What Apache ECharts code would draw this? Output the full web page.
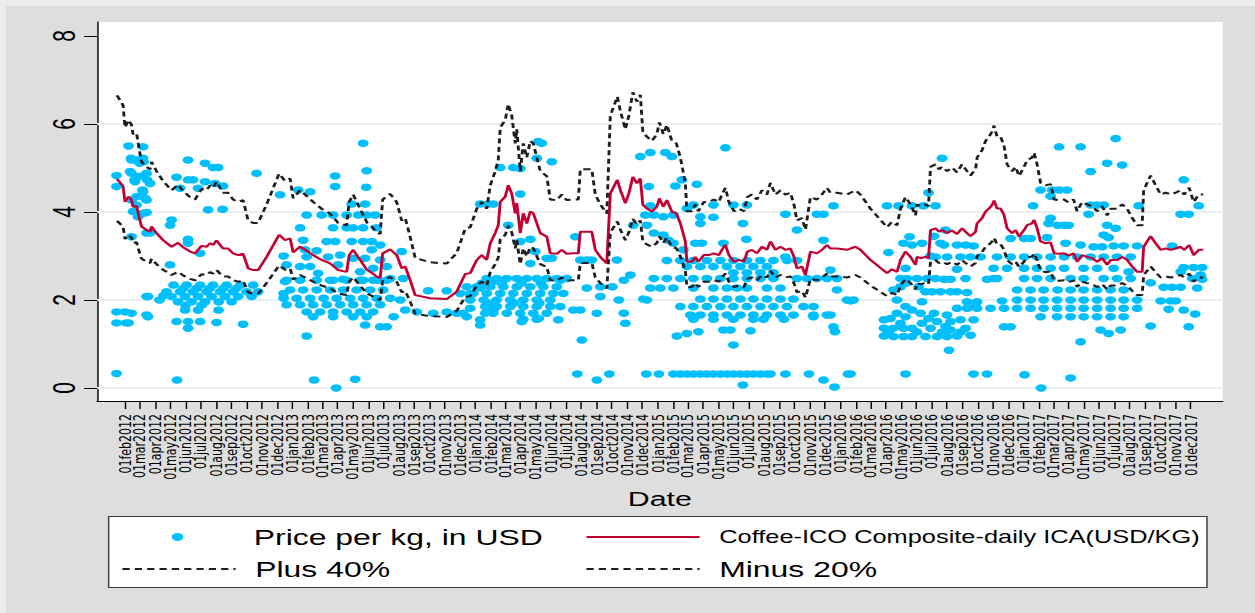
<!DOCTYPE html>
<html>
<head>
<meta charset="utf-8">
<script src="https://cdn.jsdelivr.net/npm/echarts@6/dist/echarts.min.js"></script>
<style>
  html, body { margin: 0; padding: 0; width: 1255px; height: 613px; overflow: hidden; background: #dedede; }
  #edgeTop { position: absolute; left: 0; top: 0; width: 1255px; height: 6px; background: #ececec; }
  #edgeLeft { position: absolute; left: 0; top: 0; width: 6px; height: 613px; background: #ececec; }
  /* the graph is laid out on an 865px-wide canvas and widened to fill the window */
  #chart { position: absolute; left: 0; top: 0; width: 865px; height: 613px; transform: scaleX(1.450867); transform-origin: 0 0; }
</style>
</head>
<body>
<div id="edgeTop"></div>
<div id="edgeLeft"></div>
<div id="chart"></div>
<script>
// ---- axis ticks ----
const TICK_LABELS = [
  '01feb2012','01mar2012','01apr2012','01may2012','01jun2012','01jul2012','01aug2012','01sep2012','01oct2012','01nov2012','01dec2012',
  '01jan2013','01feb2013','01mar2013','01apr2013','01may2013','01jun2013','01jul2013','01aug2013','01sep2013','01oct2013','01nov2013','01dec2013',
  '01jan2014','01feb2014','01mar2014','01apr2014','01may2014','01jun2014','01jul2014','01aug2014','01sep2014','01oct2014','01nov2014','01dec2014',
  '01jan2015','01feb2015','01mar2015','01apr2015','01may2015','01jun2015','01jul2015','01aug2015','01sep2015','01oct2015','01nov2015','01dec2015',
  '01jan2016','01feb2016','01mar2016','01apr2016','01may2016','01jun2016','01jul2016','01aug2016','01sep2016','01oct2016','01nov2016','01dec2016',
  '01jan2017','01feb2017','01mar2017','01apr2017','01may2017','01jun2017','01jul2017','01aug2017','01sep2017','01oct2017','01nov2017','01dec2017'
];
const Y_TICKS = [0, 2, 4, 6, 8];
const Y_GRID = [0, 2, 4, 6];

// ---- Coffee-ICO composite daily indicator price (USD/kg) ----
const icaSeries = [
  ['2012-01-16',4.75],['2012-01-28',4.59],['2012-02-01',4.23],['2012-02-08',4.35],['2012-02-14',4.27],['2012-02-17',4.12],['2012-02-24',4.14],['2012-02-29',3.89],
  ['2012-03-05',3.67],['2012-03-15',3.59],['2012-03-22',3.55],['2012-03-25',3.67],['2012-04-04',3.52],['2012-04-17',3.36],['2012-05-04',3.21],['2012-05-17',3.30],
  ['2012-05-27',3.20],['2012-06-10',3.10],['2012-06-20',3.06],['2012-06-26',3.14],['2012-07-03',3.23],['2012-07-13',3.21],['2012-07-20',3.29],['2012-07-26',3.25],
  ['2012-08-02',3.35],['2012-08-09',3.25],['2012-08-15',3.17],['2012-08-25',3.17],['2012-09-04',3.06],['2012-09-14',3.02],['2012-09-24',3.05],['2012-10-04',2.72],
  ['2012-10-14',2.68],['2012-10-24',2.68],['2012-11-10',2.98],['2012-12-05',3.48],['2012-12-17',3.36],['2012-12-27',3.40],
  ['2013-01-02',3.08],['2013-01-16',3.21],['2013-01-26',3.14],['2013-02-11',3.02],['2013-02-28',2.91],['2013-03-17',2.83],['2013-04-02',2.68],['2013-04-19',2.64],
  ['2013-04-24',3.02],['2013-05-02',3.14],['2013-05-16',2.91],['2013-05-30',2.68],['2013-06-08',2.62],['2013-06-18',2.53],['2013-06-25',2.50],['2013-06-30',3.06],
  ['2013-07-15',3.15],['2013-07-28',3.02],['2013-08-07',2.72],['2013-08-14',2.76],['2013-08-24',2.45],['2013-09-03',2.11],['2013-10-03',2.04],['2013-11-05',2.02],
  ['2013-11-25',2.19],['2013-12-12',2.59],['2013-12-22',2.61],
  ['2014-01-04',2.91],['2014-01-14',3.02],['2014-01-24',2.91],['2014-01-31',3.29],['2014-02-10',3.52],['2014-02-16',3.70],['2014-02-20',4.23],['2014-03-02',4.35],
  ['2014-03-08',4.61],['2014-03-15',4.42],['2014-03-22',3.97],['2014-03-25',4.20],['2014-04-01',3.52],['2014-04-07',3.97],['2014-04-14',3.74],['2014-04-21',4.01],
  ['2014-04-27',3.97],['2014-05-11',3.52],['2014-05-24',3.44],['2014-05-31',3.06],['2014-06-13',3.05],['2014-06-23',3.14],['2014-07-03',3.05],['2014-07-16',3.06],
  ['2014-07-26',3.06],['2014-07-30',3.55],['2014-08-22',3.55],['2014-08-29',3.14],['2014-09-08',2.98],['2014-09-21',2.83],['2014-09-28',4.42],['2014-10-12',4.73],
  ['2014-10-18',4.50],['2014-10-28',4.20],['2014-11-04',4.42],['2014-11-12',4.80],['2014-11-20',4.65],['2014-11-27',4.76],['2014-12-02',4.16],['2014-12-10',4.08],
  ['2014-12-20',4.01],['2014-12-30',4.12],
  ['2015-01-04',4.31],['2015-01-12',4.12],['2015-01-19',4.27],['2015-01-29',4.01],['2015-02-07',3.97],['2015-02-15',3.74],['2015-02-25',3.33],['2015-02-28',2.87],
  ['2015-03-10',2.87],['2015-03-17',2.98],['2015-03-23',2.87],['2015-04-03',3.02],['2015-04-13',3.02],['2015-04-23',3.06],['2015-05-03',3.02],['2015-05-09',3.14],
  ['2015-05-16',3.25],['2015-05-23',3.02],['2015-06-02',2.87],['2015-06-12',2.91],['2015-06-22',2.87],['2015-06-29',3.10],['2015-07-08',3.14],['2015-07-18',3.06],
  ['2015-07-28',3.21],['2015-08-07',3.14],['2015-08-14',3.33],['2015-08-24',3.14],['2015-09-03',3.21],['2015-09-13',3.14],['2015-09-23',3.17],['2015-09-30',2.98],
  ['2015-10-06',2.72],['2015-10-16',2.76],['2015-10-23',2.57],['2015-11-02',3.10],['2015-11-15',3.06],['2015-11-25',3.14],['2015-12-05',3.25],['2015-12-12',3.17],
  ['2015-12-25',3.17],
  ['2016-01-14',3.14],['2016-01-21',3.17],['2016-01-31',3.21],['2016-02-10',3.14],['2016-03-01',2.91],['2016-04-03',2.61],['2016-04-13',2.70],['2016-04-23',2.64],
  ['2016-04-30',2.91],['2016-05-10',3.10],['2016-05-20',2.98],['2016-05-30',2.80],['2016-06-02',2.98],['2016-06-09',2.95],['2016-06-19',2.98],['2016-06-25',2.95],
  ['2016-06-29',3.59],['2016-07-09',3.63],['2016-07-16',3.55],['2016-07-22',3.59],['2016-08-01',3.52],['2016-08-11',3.58],['2016-08-21',3.50],['2016-08-31',3.63],
  ['2016-09-10',3.52],['2016-09-17',3.45],['2016-09-27',3.55],['2016-09-30',3.74],['2016-10-10',3.86],['2016-10-17',4.01],['2016-10-24',4.08],['2016-10-30',4.16],
  ['2016-11-03',4.26],['2016-11-09',4.08],['2016-11-16',4.08],['2016-11-23',3.93],['2016-11-29',3.63],['2016-12-09',3.52],['2016-12-16',3.59],['2016-12-23',3.44],
  ['2017-01-02',3.59],['2017-01-08',3.70],['2017-01-18',3.74],['2017-01-22',3.82],['2017-01-28',3.63],['2017-02-04',3.33],['2017-02-14',3.29],['2017-02-24',3.31],
  ['2017-03-03',3.06],['2017-03-13',3.05],['2017-03-23',3.06],['2017-04-01',3.01],['2017-04-11',3.06],['2017-04-18',2.87],['2017-04-28',3.02],['2017-05-08',2.98],
  ['2017-05-18',2.95],['2017-05-28',2.87],['2017-06-07',2.95],['2017-06-17',2.80],['2017-06-24',2.91],['2017-07-07',2.91],['2017-07-17',2.98],['2017-07-27',2.91],
  ['2017-08-06',2.76],['2017-08-16',2.64],['2017-08-26',2.64],['2017-08-29',3.21],['2017-09-12',3.45],['2017-09-22',3.29],['2017-10-02',3.14],['2017-10-12',3.17],
  ['2017-10-22',3.14],['2017-11-01',3.17],['2017-11-11',3.21],['2017-11-18',3.14],['2017-11-28',3.25],['2017-12-07',3.02],['2017-12-17',3.14],['2017-12-26',3.14]
];
// band multipliers named in the legend
const PLUS_FACTOR = 1.4;   // Plus 40%
const MINUS_FACTOR = 0.8;  // Minus 20%

// ---- observed prices per kg (USD) ----
const price2012 = [
  ['2012-01-15',4.83],['2012-01-15',4.58],['2012-01-15',0.33],['2012-01-15',1.73],['2012-01-15',1.48],
  ['2012-02-01',1.73],['2012-02-03',1.48],['2012-02-08',5.50],['2012-02-08',1.48],['2012-02-11',4.92],
  ['2012-02-14',5.18],['2012-02-14',4.88],['2012-02-14',4.27],['2012-02-14',3.44],['2012-02-14',1.70],['2012-02-13',5.22],
  ['2012-02-17',4.01],['2012-02-21',4.69],['2012-02-20',4.73],['2012-02-24',5.18],['2012-02-24',4.35],['2012-02-24',4.16],
  ['2012-02-27',3.89],['2012-03-01',5.11],['2012-03-01',4.81],
  ['2012-03-08',5.48],['2012-03-08',5.22],['2012-03-08',4.46],['2012-03-08',3.97],['2012-03-07',4.50],['2012-03-09',5.14],
  ['2012-03-12',4.31],['2012-03-15',4.88],['2012-03-15',4.27],['2012-03-15',3.52],['2012-03-15',2.08],['2012-03-15',1.66],['2012-03-16',4.73],['2012-03-15',3.99],
  ['2012-03-18',2.08],['2012-03-18',1.62],['2012-03-22',4.65],['2012-03-22',3.52],
  ['2012-04-10',2.00],['2012-04-18',2.10],
  ['2012-05-01',3.70],['2012-05-01',2.80],['2012-05-04',3.82],['2012-05-14',4.79],['2012-05-14',1.51],['2012-05-15',0.18],['2012-05-21',4.54],
  ['2012-06-06',5.18],['2012-06-06',4.73],['2012-06-06',3.38],['2012-06-06',3.29],['2012-06-16',4.73],['2012-06-26',4.54],['2012-06-30',3.06],
  ['2012-07-10',5.11],['2012-07-10',4.69],['2012-07-16',4.05],['2012-07-26',5.01],['2012-07-30',4.65],
  ['2012-08-05',5.01],['2012-08-14',4.06],['2012-08-15',4.59],['2012-10-21',4.88],
  ['2012-05-08',2.34],['2012-06-03',2.34],['2012-06-30',2.34],['2012-07-26',2.34],['2012-08-22',2.34],['2012-09-18',2.34],['2012-10-14',2.34],
  ['2012-05-27',2.26],['2012-06-23',2.26],['2012-07-19',2.26],['2012-08-15',2.26],['2012-09-10',2.26],
  ['2012-04-24',2.19],['2012-05-21',2.19],['2012-06-16',2.19],['2012-07-13',2.19],['2012-08-09',2.19],['2012-09-04',2.19],['2012-10-01',2.19],['2012-10-24',2.19],
  ['2012-05-04',2.08],['2012-05-31',2.08],['2012-06-26',2.08],['2012-07-23',2.08],['2012-08-19',2.08],['2012-09-14',2.08],['2012-10-11',2.08],
  ['2012-05-17',1.96],['2012-06-13',1.96],['2012-07-10',1.96],['2012-08-06',1.96],['2012-09-01',1.96],
  ['2012-06-01',1.88],['2012-07-03',1.88],
  ['2012-05-31',1.77],['2012-06-26',1.77],['2012-08-06',1.77],
  ['2012-06-06',1.51],['2012-06-30',1.51],['2012-08-02',1.49],['2012-09-24',1.45],['2012-06-06',1.36],
  ['2012-12-07',4.39],['2012-12-14',3.00],['2012-12-20',2.80],['2012-12-17',2.42],['2012-12-20',2.45],['2012-12-27',2.23],
  ['2012-12-14',2.04],['2012-12-20',1.89],['2012-12-14',2.15]
];
const price2013 = [
  ['2013-01-12',4.50],['2013-02-05',4.46],['2013-03-27',4.82],['2013-03-27',4.58],['2013-05-22',5.56],['2013-05-29',4.94],['2013-05-28',4.56],
  ['2013-04-29',4.18],['2013-05-26',4.18],
  ['2013-01-29',3.93],['2013-02-28',3.93],['2013-03-23',3.93],['2013-04-19',3.93],['2013-05-12',3.93],['2013-05-29',3.93],['2013-06-15',3.93],
  ['2013-01-16',3.64],['2013-03-23',3.64],['2013-04-19',3.64],['2013-05-02',3.64],['2013-05-22',3.64],['2013-06-18',3.64],
  ['2013-01-22',3.36],['2013-03-10',3.33],['2013-03-27',3.33],['2013-04-29',3.33],['2013-05-22',3.33],['2013-06-08',3.33],['2013-06-25',3.25],
  ['2013-01-26',3.14],['2013-01-29',2.98],['2013-02-18',3.12],['2013-03-13',2.98],['2013-04-06',3.02],['2013-05-02',2.95],['2013-05-26',2.95],
  ['2013-06-08',3.14],['2013-06-25',2.91],['2013-08-07',3.10],
  ['2013-01-16',2.76],['2013-02-05',2.76],['2013-04-02',2.80],['2013-05-16',2.64],['2013-06-11',2.72],['2013-07-08',2.76],
  ['2013-01-16',2.45],['2013-02-18',2.45],['2013-02-21',2.61],['2013-03-17',2.45],['2013-03-23',2.45],['2013-04-12',2.47],['2013-04-19',2.45],
  ['2013-05-16',2.45],['2013-05-22',2.45],['2013-06-11',2.45],['2013-06-21',2.45],['2013-07-08',2.45],['2013-07-15',2.49],['2013-08-10',2.49],
  ['2013-01-22',2.23],['2013-02-18',2.23],['2013-03-17',2.23],['2013-04-12',2.23],['2013-05-09',2.23],['2013-06-05',2.23],['2013-07-01',2.23],
  ['2013-01-09',2.04],['2013-02-05',2.04],['2013-03-04',2.04],['2013-03-30',2.04],['2013-04-26',2.04],['2013-05-22',2.04],['2013-06-18',2.04],
  ['2013-07-15',2.04],['2013-08-04',2.00],
  ['2013-01-16',1.89],['2013-02-11',1.89],['2013-03-10',1.89],['2013-04-06',1.89],['2013-05-02',1.89],['2013-05-29',1.89],['2013-06-25',1.89],
  ['2013-01-29',1.73],['2013-02-25',1.73],['2013-03-23',1.73],['2013-04-19',1.73],['2013-05-16',1.73],['2013-06-11',1.73],
  ['2013-02-11',1.62],['2013-03-23',1.62],['2013-05-02',1.62],['2013-05-29',1.62],['2013-07-22',1.62],
  ['2013-01-29',1.18],['2013-05-26',1.43],['2013-06-25',1.39],['2013-07-08',1.39],
  ['2013-02-13',0.18],['2013-03-29',0.00],['2013-05-06',0.20],
  ['2013-08-14',1.77],['2013-09-06',1.73],['2013-09-29',2.21],['2013-10-09',1.70],['2013-11-05',1.73],['2013-11-05',2.21],['2013-11-25',1.70],
  ['2013-12-15',1.62],['2013-12-22',1.81],['2013-12-22',2.15],
  ['2013-12-15',2.30],['2013-12-02',2.15],['2013-12-28',2.15],['2013-12-22',2.00],['2013-12-08',1.70]
];
const price2014 = [
  ['2014-01-11',2.27],['2014-01-11',1.55],['2014-01-11',4.18],['2014-01-11',1.43],['2014-01-21',1.70],['2014-01-27',4.18],['2014-02-06',1.77],
  ['2014-02-06',2.42],['2014-02-06',4.18],['2014-02-20',5.01],['2014-03-18',5.01],['2014-04-01',4.99],['2014-04-01',4.41],['2014-04-01',3.33],
  ['2014-05-07',5.60],['2014-05-14',5.56],['2014-05-04',5.22],['2014-06-03',5.14],['2014-06-03',2.95],['2014-03-08',3.70],['2014-04-21',3.38],
  ['2014-04-21',2.83],['2014-05-01',3.10],['2014-05-24',2.95],['2014-07-20',3.44],['2014-07-30',2.91],['2014-08-12',2.91],['2014-08-12',2.27],
  ['2014-08-22',2.91],['2014-10-11',2.91],
  ['2014-01-24',2.49],['2014-02-13',2.49],['2014-03-05',2.49],['2014-03-25',2.49],['2014-04-14',2.49],['2014-05-04',2.49],['2014-05-24',2.49],['2014-06-13',2.49],['2014-07-03',2.49],
  ['2014-01-14',2.38],['2014-02-23',2.38],['2014-04-03',2.38],['2014-05-12',2.38],
  ['2014-01-04',2.30],['2014-01-31',2.30],['2014-02-26',2.30],['2014-03-25',2.30],['2014-04-21',2.30],['2014-05-17',2.30],['2014-06-13',2.30],
  ['2014-01-24',2.15],['2014-02-20',2.15],['2014-03-18',2.15],['2014-04-14',2.15],['2014-05-11',2.15],['2014-06-06',2.15],['2014-06-26',2.15],
  ['2014-01-18',2.00],['2014-02-13',2.00],['2014-03-12',2.00],['2014-04-07',2.00],['2014-05-04',2.00],['2014-05-31',2.00],
  ['2014-01-28',1.93],['2014-03-20',1.93],['2014-05-09',1.93],
  ['2014-01-21',1.85],['2014-02-13',1.85],['2014-03-12',1.85],['2014-04-07',1.85],['2014-05-04',1.85],['2014-05-31',1.85],['2014-06-20',1.85],
  ['2014-02-06',1.70],['2014-03-05',1.70],['2014-04-01',1.70],['2014-04-27',1.70],['2014-05-24',1.70],
  ['2014-04-07',1.56],['2014-05-04',1.56],
  ['2014-07-16',1.77],['2014-07-30',1.77],['2014-09-01',1.70],['2014-09-08',2.08],['2014-10-15',2.00],['2014-10-25',1.70],['2014-10-28',1.47],
  ['2014-11-07',2.57],['2014-10-25',2.45],['2014-10-02',2.30],['2014-09-08',2.30],['2014-06-20',2.45],['2014-12-10',2.00],['2014-08-02',1.09],
  ['2014-06-16',1.55],['2014-04-04',1.51],['2014-05-08',1.58],
  ['2014-07-24',0.32],['2014-09-26',0.32],['2014-12-09',0.32],['2014-09-01',0.18],
  ['2014-11-27',5.26],['2014-12-17',5.35],['2014-12-14',4.58],['2014-11-13',3.70],['2014-12-10',3.70],['2014-12-07',3.93],['2014-12-17',4.14],
  ['2014-12-24',3.93],['2014-12-24',3.52],['2014-12-24',2.49],['2014-12-17',2.27],['2014-12-03',2.02]
];
const price2015 = [
  ['2015-01-03',0.32],['2015-01-16',5.35],['2015-01-29',5.26],
  ['2015-01-12',3.89],['2015-01-12',3.48],['2015-02-01',3.93],['2015-02-01',3.29],['2015-01-22',3.36],['2015-02-21',3.14],['2015-02-05',4.59],
  ['2015-02-18',4.73],['2015-03-20',4.63],['2015-05-16',5.46],['2015-02-28',4.08],['2015-03-13',4.16],['2015-04-22',4.16],['2015-04-22',3.88],
  ['2015-03-27',3.89],['2015-03-27',3.74],['2015-03-17',3.29],['2015-03-30',3.29],['2015-05-12',3.29],['2015-06-01',4.16],['2015-06-28',4.16],
  ['2015-06-20',3.74],['2015-06-27',3.38],['2015-09-13',3.95],['2015-09-13',2.98],['2015-10-06',3.59],['2015-11-15',3.95],['2015-11-28',3.95],
  ['2015-11-28',3.36],['2015-12-18',4.14],['2015-12-12',2.68],
  ['2015-01-19',2.90],['2015-02-15',2.90],['2015-03-13',2.90],['2015-04-09',2.90],['2015-05-06',2.90],['2015-06-01',2.90],['2015-06-28',2.90],
  ['2015-07-25',2.90],['2015-08-20',2.90],['2015-09-16',2.90],['2015-10-06',2.90],
  ['2015-02-28',2.76],['2015-03-27',2.76],['2015-04-22',2.76],['2015-05-19',2.76],['2015-06-15',2.76],['2015-07-11',2.76],['2015-08-07',2.76],
  ['2015-06-01',2.62],['2015-06-28',2.62],['2015-07-25',2.62],['2015-08-20',2.62],
  ['2015-01-19',2.49],['2015-02-15',2.49],['2015-03-13',2.49],['2015-04-09',2.49],['2015-05-06',2.49],['2015-06-01',2.49],['2015-06-28',2.49],
  ['2015-07-25',2.49],['2015-08-20',2.49],['2015-10-06',2.49],['2015-10-26',2.49],['2015-11-15',2.49],['2015-12-05',2.49],['2015-12-25',2.49],
  ['2015-01-06',2.27],['2015-02-01',2.27],['2015-03-13',2.27],['2015-04-22',2.27],['2015-05-19',2.27],['2015-06-08',2.27],['2015-06-28',2.27],
  ['2015-08-07',2.27],['2015-09-03',2.27],['2015-12-25',2.23],
  ['2015-03-27',2.02],['2015-04-22',2.02],['2015-05-19',2.02],['2015-06-15',2.02],['2015-07-11',2.02],['2015-08-07',2.02],['2015-09-03',2.02],['2015-09-29',2.02],
  ['2015-02-15',1.85],['2015-03-13',1.85],['2015-04-09',1.85],['2015-05-06',1.85],['2015-06-01',1.85],['2015-06-28',1.85],['2015-07-25',1.85],
  ['2015-08-20',1.85],['2015-09-16',1.85],['2015-10-19',1.85],['2015-11-08',1.85],
  ['2015-03-07',1.66],['2015-03-27',1.66],['2015-04-22',1.66],['2015-05-19',1.66],['2015-06-15',1.66],['2015-07-11',1.66],['2015-08-07',1.66],
  ['2015-09-03',1.66],['2015-09-29',1.66],['2015-11-08',1.66],['2015-12-05',1.66],
  ['2015-03-13',1.56],['2015-04-22',1.56],['2015-06-01',1.56],['2015-07-11',1.56],['2015-07-31',1.56],['2015-09-10',1.56],
  ['2015-02-08',1.18],['2015-02-28',1.24],['2015-03-23',1.28],['2015-05-12',1.32],['2015-05-26',1.32],['2015-07-05',1.30],['2015-06-01',0.98],
  ['2015-12-18',1.39],['2015-12-21',1.28],['2015-12-12',1.66],['2015-11-08',1.62],
  ['2015-02-01',0.32],['2015-02-15',0.32],['2015-02-28',0.32],['2015-03-13',0.32],['2015-03-27',0.32],['2015-04-09',0.32],['2015-04-22',0.32],
  ['2015-05-06',0.32],['2015-05-19',0.32],['2015-06-01',0.32],['2015-06-15',0.32],['2015-06-28',0.32],['2015-07-11',0.32],['2015-07-25',0.32],
  ['2015-08-07',0.32],['2015-08-14',0.32],['2015-09-13',0.32],['2015-10-30',0.32],
  ['2015-06-20',0.07],['2015-11-28',0.18],['2015-12-20',0.02]
];
const price2016 = [
  ['2016-01-14',2.00],['2016-01-27',2.00],['2016-01-16',0.32],['2016-01-21',1.98],['2016-01-21',0.32],
  ['2016-04-03',4.14],['2016-04-26',4.14],['2016-05-23',4.14],['2016-06-15',4.14],['2016-07-09',4.14],['2016-06-25',4.44],['2016-07-22',5.22],
  ['2016-04-06',3.08],['2016-05-06',3.29],['2016-05-18',3.44],['2016-05-23',3.25],['2016-06-12',3.29],['2016-07-06',3.45],['2016-07-19',3.29],
  ['2016-07-29',3.59],['2016-07-26',3.25],['2016-08-21',3.25],['2016-09-07',3.25],['2016-09-23',3.23],
  ['2016-06-29',3.00],['2016-07-09',2.98],['2016-08-01',2.98],['2016-08-28',2.98],['2016-09-17',2.98],['2016-10-07',2.98],
  ['2016-08-21',2.70],['2016-05-10',2.72],
  ['2016-04-30',2.49],['2016-05-13',2.49],['2016-06-02',2.49],['2016-06-22',2.49],['2016-07-09',2.49],['2016-07-26',2.47],['2016-08-08',2.47],
  ['2016-09-07',2.49],['2016-10-20',2.47],['2016-11-02',2.49],['2016-11-09',2.49],
  ['2016-04-16',2.23],['2016-04-30',2.30],['2016-05-10',2.38],['2016-06-05',2.30],['2016-06-19',2.19],['2016-07-02',2.19],['2016-07-19',2.19],
  ['2016-08-08',2.19],['2016-08-21',2.19],['2016-09-10',2.17],
  ['2016-04-23',2.00],['2016-06-12',1.96],['2016-09-30',1.96],['2016-11-19',1.98],
  ['2016-03-28',1.55],['2016-03-28',1.36],['2016-03-28',1.18],['2016-04-16',1.17],['2016-04-16',1.36],['2016-05-06',1.17],['2016-05-06',1.36],
  ['2016-05-23',1.17],['2016-05-23',1.36],['2016-06-19',1.17],['2016-07-12',1.17],['2016-08-01',1.17],['2016-08-21',1.18],['2016-09-17',1.20],
  ['2016-06-29',1.36],['2016-08-08',1.32],['2016-09-07',1.36],['2016-04-10',1.58],['2016-05-10',1.62],['2016-05-23',1.77],['2016-06-09',1.70],
  ['2016-07-06',1.70],['2016-08-01',1.66],['2016-08-28',1.55],['2016-09-23',1.55],['2016-09-27',1.85],['2016-09-10',1.96],['2016-05-10',1.85],
  ['2016-04-30',1.47],['2016-06-12',1.47],['2016-07-12',1.51],['2016-08-08',1.51],
  ['2016-04-06',1.26],['2016-06-02',1.27],['2016-07-22',1.27],['2016-08-28',1.27],['2016-04-23',1.70],['2016-06-25',1.58],['2016-07-29',1.40],
  ['2016-08-05',0.86],['2016-05-10',0.32],['2016-09-23',0.32],['2016-10-20',0.32],
  ['2016-11-09',2.98],['2016-12-06',2.98],['2016-11-02',2.72],['2016-11-29',2.72],['2016-12-19',2.23],['2016-12-19',2.00],
  ['2016-08-21',1.81],['2016-09-10',1.81],['2016-09-30',1.81],['2016-10-27',1.81],['2016-11-23',1.81],['2016-12-19',1.81],
  ['2016-11-23',1.39],['2016-12-06',1.39],['2016-12-06',3.40]
];
const price2017 = [
  ['2017-01-02',2.98],['2017-01-28',2.98],['2017-02-24',2.98],['2017-03-23',2.98],['2017-04-18',2.98],['2017-05-15',2.98],['2017-06-10',2.98],
  ['2017-07-07',2.98],['2017-08-03',2.98],
  ['2017-01-02',2.72],['2017-01-28',2.72],['2017-02-24',2.72],['2017-03-23',2.72],['2017-05-01',2.72],['2017-05-28',2.72],['2017-06-30',2.72],
  ['2017-01-02',2.49],['2017-01-28',2.49],['2017-02-24',2.49],['2017-04-05',2.49],['2017-05-01',2.49],['2017-06-10',2.49],['2017-07-07',2.49],['2017-08-03',2.49],
  ['2017-01-15',2.23],['2017-02-10',2.23],['2017-03-10',2.23],['2017-04-05',2.23],['2017-05-01',2.23],['2017-05-28',2.23],['2017-06-24',2.23],['2017-07-20',2.23],
  ['2017-01-15',2.00],['2017-02-10',2.00],['2017-03-09',2.00],['2017-04-05',2.00],['2017-05-01',2.00],['2017-05-28',2.00],['2017-06-24',2.00],
  ['2017-07-20',2.00],['2017-08-16',2.00],
  ['2017-01-15',1.81],['2017-02-10',1.81],['2017-03-09',1.81],['2017-04-05',1.81],['2017-05-01',1.81],['2017-05-28',1.81],['2017-06-24',1.81],
  ['2017-07-20',1.81],['2017-08-16',1.81],
  ['2017-02-04',1.62],['2017-03-09',1.62],['2017-04-05',1.62],['2017-05-01',1.62],['2017-05-28',1.62],['2017-06-24',1.62],['2017-07-20',1.62],
  ['2017-06-04',1.32],['2017-06-20',1.24],['2017-07-14',1.32],['2017-04-25',1.05],
  ['2017-01-03',0.30],['2017-02-05',0.00],['2017-04-05',0.23],
  ['2017-03-13',5.48],['2017-04-25',5.48],['2017-07-04',5.67],['2017-05-15',4.92],['2017-06-17',5.11],['2017-07-17',5.07],['2017-11-17',4.73],
  ['2017-12-17',4.14],['2017-11-11',3.95],['2017-11-27',3.95],
  ['2017-02-04',4.50],['2017-02-27',4.50],['2017-03-13',4.50],['2017-03-29',4.50],['2017-02-24',4.36],['2017-01-20',4.14],
  ['2017-05-15',4.16],['2017-05-28',4.16],['2017-06-10',4.16],['2017-05-11',3.95],['2017-08-19',4.14],
  ['2017-02-24',3.86],['2017-03-23',3.70],['2017-02-20',3.74],['2017-03-10',3.70],['2017-04-01',3.70],['2017-06-17',3.70],['2017-07-04',3.63],
  ['2017-06-10',3.48],['2017-06-20',3.42],['2017-02-17',3.42],['2017-01-02',3.40],['2017-01-15',3.40],
  ['2017-03-26',3.29],['2017-04-25',3.25],['2017-05-21',3.21],['2017-06-07',3.21],['2017-06-30',3.23],['2017-07-20',3.23],['2017-08-16',3.23],['2017-10-25',3.23],
  ['2017-07-30',2.64],
  ['2017-11-17',2.74],['2017-12-07',2.74],['2017-12-24',2.74],['2017-11-11',2.64],['2017-12-21',2.57],['2017-12-24',2.47],['2017-12-04',2.49],
  ['2017-12-14',2.27],['2017-09-12',2.39],['2017-10-08',2.29],['2017-10-25',2.29],['2017-11-11',2.29],['2017-10-02',1.98],['2017-10-22',1.98],
  ['2017-11-01',1.98],['2017-10-18',1.79],['2017-11-17',1.77],['2017-12-10',1.68],['2017-11-27',1.39],['2017-09-12',1.41]
];

// ---- helpers ----
const MONTHS = ['jan','feb','mar','apr','may','jun','jul','aug','sep','oct','nov','dec'];
const DAY_MS = 86400000;
function toTime(s) { const p = s.split('-'); return Date.UTC(+p[0], +p[1] - 1, +p[2]); }
function tickTime(lbl) { return Date.UTC(+lbl.slice(5), MONTHS.indexOf(lbl.slice(2, 5)), 1); }
function dateLabel(v) {
  const d = new Date(Math.round(v / DAY_MS) * DAY_MS);
  const dd = String(d.getUTCDate()).padStart(2, '0');
  return dd + MONTHS[d.getUTCMonth()] + d.getUTCFullYear();
}
const tickValues = TICK_LABELS.map(tickTime);
// the monthly labels sit closer together than a label is thick, so they are
// shared between two coincident bottom axes (alternate months on each)
const labelsA = tickValues.filter((_, i) => i % 2 === 0);
const labelsB = tickValues.filter((_, i) => i % 2 === 1);

const priceData = [].concat(price2012, price2013, price2014, price2015, price2016, price2017)
  .map(([d, v]) => [toTime(d), v]);
const icaData = icaSeries.map(([d, v]) => [toTime(d), v]);
const plusData = icaSeries.map(([d, v]) => [toTime(d), +(v * PLUS_FACTOR).toFixed(3)]);
const minusData = icaSeries.map(([d, v]) => [toTime(d), +(v * MINUS_FACTOR).toFixed(3)]);

const FONT = "'Liberation Sans', Arial, Helvetica, sans-serif";
const NAME_PRICE = 'Price per kg, in USD';
const NAME_ICA = 'Coffee-ICO Composite-daily ICA(USD/KG)';
const NAME_PLUS = 'Plus 40%';
const NAME_MINUS = 'Minus 20%';

const X_MIN = toTime('2011-12-07');
const X_MAX = toTime('2018-02-03');
const xLabelStyle = {
  rotate: 90, margin: 13, fontSize: 11, fontFamily: "'DejaVu Sans', sans-serif",
  color: '#000', hideOverlap: false, showMinLabel: true, showMaxLabel: true,
  formatter: dateLabel
};

// one legend block per key, so the two key columns line up
function lineKey(name, left, top, size) {
  return {
    data: [name], left: left, top: top, padding: 0, orient: 'horizontal',
    itemWidth: 78, itemHeight: 10, selectedMode: false,
    itemStyle: { opacity: 0 },
    textStyle: { fontFamily: FONT, fontSize: size, color: '#000', padding: [0, 0, 0, 8.5] }
  };
}
// the dot key's box starts at the dot, which sits in the middle of a 78px key slot
const dotKey = {
  data: [NAME_PRICE], left: 118.4, top: 526, padding: 0, orient: 'horizontal',
  itemWidth: 78, itemHeight: 8, selectedMode: false,
  icon: 'path://M0,4A4,4,0,1,1,8,4A4,4,0,1,1,0,4Z',
  textStyle: { fontFamily: FONT, fontSize: 22, color: '#000', padding: [0, 0, 0, 8.5] }
};

const chart = echarts.init(document.getElementById('chart'), null, { renderer: 'svg' });
chart.setOption({
  animation: false,
  backgroundColor: 'transparent',
  grid: { left: 66.86, right: 22.26, top: 22, bottom: 212, show: true, backgroundColor: '#ffffff', borderWidth: 0 },
  xAxis: [
    {
      type: 'value', position: 'bottom', min: X_MIN, max: X_MAX,
      name: 'Date', nameLocation: 'middle', nameGap: 87,
      nameTextStyle: { fontFamily: FONT, fontSize: 21, color: '#000' },
      axisLine: { onZero: false, lineStyle: { color: '#000', width: 1 } },
      axisTick: { show: true, customValues: tickValues, length: 8, lineStyle: { color: '#000', width: 1 } },
      axisLabel: Object.assign({ customValues: labelsA }, xLabelStyle),
      splitLine: { show: false }
    },
    {
      type: 'value', position: 'bottom', offset: 0, min: X_MIN, max: X_MAX,
      axisLine: { show: false, onZero: false },
      axisTick: { show: false },
      axisLabel: Object.assign({ customValues: labelsB }, xLabelStyle),
      splitLine: { show: false }
    }
  ],
  yAxis: {
    type: 'value',
    min: -0.2955, max: 8.318,
    axisLine: { show: true, onZero: false, lineStyle: { color: '#000', width: 1 } },
    axisTick: { show: true, customValues: Y_TICKS, length: 9, lineStyle: { color: '#000', width: 1 } },
    axisLabel: { customValues: Y_TICKS, rotate: 90, margin: 12, fontSize: 21, fontFamily: FONT, color: '#000' },
    splitLine: { show: false }
  },
  legend: [
    dotKey,
    lineKey(NAME_ICA, 403.2, 528, 17.5),
    lineKey(NAME_PLUS, 83.4, 558, 22),
    lineKey(NAME_MINUS, 403.2, 558, 22)
  ],
  graphic: [{
    type: 'rect', left: 74.4, top: 516, z: 0, silent: true,
    shape: { width: 757, height: 71 },
    style: { fill: '#ffffff', stroke: '#3c3c3c', lineWidth: 1 }
  }],
  series: [
    {
      type: 'scatter', name: NAME_PRICE, data: priceData, symbol: 'circle', symbolSize: 7.5, z: 2,
      xAxisIndex: 0,
      itemStyle: { color: '#00bfff', opacity: 1 },
      markLine: {
        silent: true, symbol: 'none', z: 1, animation: false,
        label: { show: false },
        lineStyle: { color: '#e6eef0', width: 2, type: 'solid' },
        emphasis: { disabled: true },
        data: Y_GRID.map(v => ({ yAxis: v }))
      }
    },
    {
      type: 'line', name: NAME_ICA, data: icaData, symbol: 'none', showSymbol: false, z: 3, xAxisIndex: 0,
      lineStyle: { color: '#c30032', width: 2 }, itemStyle: { color: '#c30032' }
    },
    {
      type: 'line', name: NAME_PLUS, data: plusData, symbol: 'none', showSymbol: false, z: 4, xAxisIndex: 0,
      lineStyle: { color: '#1e1e1e', width: 2, type: [5, 3.5] }, itemStyle: { color: '#1e1e1e' }
    },
    {
      type: 'line', name: NAME_MINUS, data: minusData, symbol: 'none', showSymbol: false, z: 4, xAxisIndex: 0,
      lineStyle: { color: '#1e1e1e', width: 2, type: [5, 3.5] }, itemStyle: { color: '#1e1e1e' }
    }
  ]
});
</script>
</body>
</html>
